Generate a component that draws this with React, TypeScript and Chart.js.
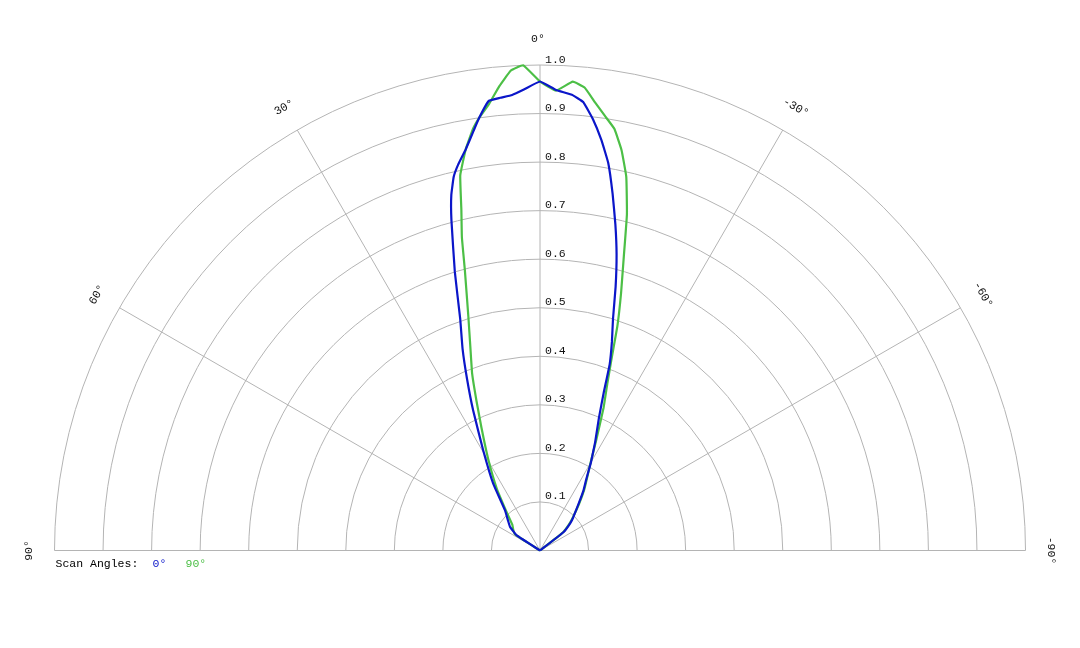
import { useEffect, useRef } from "react";
import Chart from "chart.js/auto";

// scan angle (deg), positive = left of broadside
const angles = [
  -90, -75, -60, -52, -48, -45, -40, -36, -33, -30, -27, -24, -22, -20.5, -19, -17.5, -16, -14.5, -13, -11.5,
  -10, -8.5, -7, -5.5, -4, -2, 0, 2, 3.5, 5, 6.5, 8, 9, 10.5, 12, 13, 14, 15, 17, 19, 21, 23, 25.5, 29.5, 35,
  41, 47, 52, 57, 60, 75, 90,
];

// normalised response, scan angle 0°
const scan0 = [
  0, 0, 0, 0.062, 0.084, 0.097, 0.122, 0.152, 0.175, 0.21, 0.25, 0.298, 0.35, 0.41, 0.455, 0.5, 0.565,
  0.63, 0.69, 0.75, 0.81, 0.855, 0.895, 0.928, 0.941, 0.949, 0.966, 0.95, 0.94, 0.936, 0.932, 0.9, 0.875, 0.84,
  0.812, 0.79, 0.755, 0.705, 0.6, 0.505, 0.445, 0.385, 0.32, 0.238, 0.168, 0.11, 0.09, 0.078, 0.057, 0, 0, 0,
];

// normalised response, scan angle 90°
const scan90 = [
  0, 0, 0, 0.058, 0.08, 0.095, 0.125, 0.155, 0.178, 0.208, 0.255, 0.322, 0.37, 0.42, 0.49, 0.555, 0.625,
  0.715, 0.79, 0.842, 0.882, 0.905, 0.93, 0.958, 0.968, 0.948, 0.966, 1.0, 0.99, 0.96, 0.926, 0.9, 0.88, 0.84,
  0.79, 0.72, 0.665, 0.598, 0.505, 0.44, 0.39, 0.335, 0.28, 0.217, 0.155, 0.105, 0.078, 0.07, 0.062, 0, 0, 0,
];

const rings = [0.1, 0.2, 0.3, 0.4, 0.5, 0.6, 0.7, 0.8, 0.9, 1.0];
const ringLabels = ["0.1", "0.2", "0.3", "0.4", "0.5", "0.6", "0.7", "0.8", "0.9", "1.0"];
const spokes = [60, 30, 0, -30, -60];
const angleLabels = [90, 60, 30, 0, -30, -60, -90];

const FONT = '11.5px "Courier New", "Liberation Mono", monospace';
const GRID = "#b4b4b4";
const BLUE = "#0b16c9";
const GREEN = "#4cbf46";

const toXY = (r: number[]) =>
  angles.map((a, i) => {
    const t = (a * Math.PI) / 180;
    return { x: -r[i] * Math.sin(t), y: r[i] * Math.cos(t) };
  });

const polarGrid = {
  id: "polarGrid",
  beforeDatasetsDraw(chart: any) {
    const { ctx, scales } = chart;
    const cx = scales.x.getPixelForValue(0);
    const cy = scales.y.getPixelForValue(0);
    const R = scales.x.getPixelForValue(1) - cx;
    ctx.save();
    ctx.strokeStyle = GRID;
    ctx.lineWidth = 1;
    rings.forEach((r) => {
      ctx.beginPath();
      ctx.arc(cx, cy, r * R, Math.PI, 2 * Math.PI);
      ctx.stroke();
    });
    spokes.forEach((a) => {
      const t = (a * Math.PI) / 180;
      ctx.beginPath();
      ctx.moveTo(cx, cy);
      ctx.lineTo(cx - R * Math.sin(t), cy - R * Math.cos(t));
      ctx.stroke();
    });
    ctx.beginPath();
    ctx.moveTo(cx - R, cy);
    ctx.lineTo(cx + R, cy);
    ctx.stroke();

    ctx.font = FONT;
    ctx.fillStyle = "#111";
    ctx.textAlign = "left";
    ctx.textBaseline = "middle";
    rings.forEach((r, i) => {
      ctx.fillText(ringLabels[i], cx + 5, cy - r * R - 5.5);
    });
    ctx.restore();
  },
  afterDraw(chart: any) {
    const { ctx, scales } = chart;
    const cx = scales.x.getPixelForValue(0);
    const cy = scales.y.getPixelForValue(0);
    const R = scales.x.getPixelForValue(1) - cx;
    ctx.save();
    ctx.font = FONT;
    ctx.fillStyle = "#111";
    ctx.textAlign = "center";
    ctx.textBaseline = "middle";
    angleLabels.forEach((a) => {
      const t = (a * Math.PI) / 180;
      const d = R + 26;
      ctx.save();
      ctx.translate(cx - d * Math.sin(t), cy - d * Math.cos(t));
      ctx.rotate(-t);
      ctx.fillText(`${a}°`, a === 0 ? -2 : 0, 0);
      ctx.restore();
    });

    // legend
    ctx.textAlign = "left";
    ctx.textBaseline = "alphabetic";
    const ly = cy + 16;
    ctx.fillStyle = "#000";
    ctx.fillText("Scan Angles:", cx - R + 1, ly);
    ctx.fillStyle = BLUE;
    ctx.fillText("0°", cx - R + 98, ly);
    ctx.fillStyle = GREEN;
    ctx.fillText("90°", cx - R + 131, ly);
    ctx.restore();
  },
};

const App = () => {
  const canvasRef = useRef<HTMLCanvasElement>(null);
  const chartInstance = useRef<Chart>();

  useEffect(() => {
    if (!canvasRef.current) return;
    const ctx = canvasRef.current.getContext("2d");
    if (!ctx) return;

    if (chartInstance.current) chartInstance.current.destroy();

    chartInstance.current = new Chart(ctx, {
      type: "scatter",
      data: {
        datasets: [
          {
            label: "0°",
            data: toXY(scan0),
            showLine: true,
            borderColor: BLUE,
            borderWidth: 2.2,
            pointRadius: 0,
            tension: 0.1,
            clip: false,
          },
          {
            label: "90°",
            data: toXY(scan90),
            showLine: true,
            borderColor: GREEN,
            borderWidth: 2.2,
            pointRadius: 0,
            tension: 0.1,
            clip: false,
          },
        ],
      },
      options: {
        responsive: false,
        animation: false,
        layout: { padding: { left: 54.5, right: 54.5, top: 65, bottom: 97.5 } },
        scales: {
          x: { type: "linear", min: -1, max: 1, display: false },
          y: { type: "linear", min: 0, max: 1, display: false },
        },
        plugins: {
          legend: { display: false },
          tooltip: { enabled: false },
        },
      },
      plugins: [polarGrid],
    });

    return () => {
      if (chartInstance.current) {
        chartInstance.current.destroy();
        chartInstance.current = undefined;
      }
    };
  }, []);

  return (
    <div style={{ position: "absolute", left: 0, top: 0, width: 1080, height: 648, background: "#fff" }}>
      <canvas ref={canvasRef} width={1080} height={648}></canvas>
    </div>
  );
};

export default App;
